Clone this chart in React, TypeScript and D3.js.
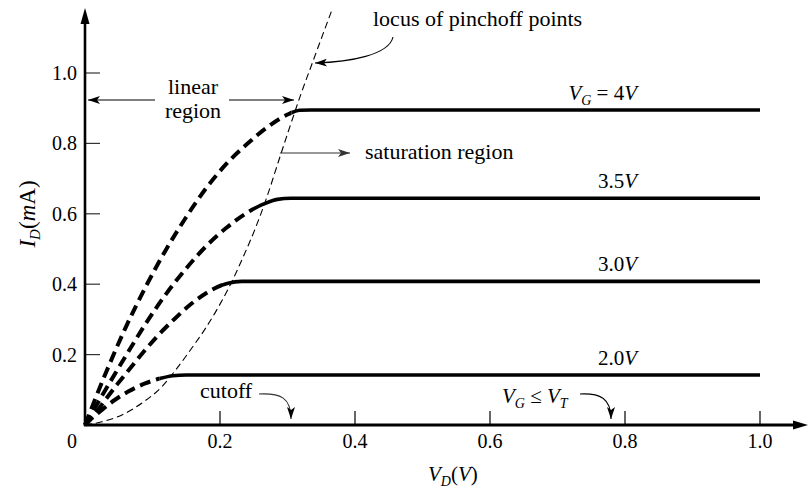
import React from "react";
import * as d3 from "d3";

// ---------- data ----------
const xTickValues = [0.2, 0.4, 0.6, 0.8, 1.0];
const yTickValues = [0.2, 0.4, 0.6, 0.8, 1.0];

// I_D (mA) vs V_D (V) for each gate voltage
const curveVG40: [number, number][] = [
  [0, 0], [0.03, 0.144], [0.06, 0.276], [0.09, 0.393], [0.12, 0.498],
  [0.15, 0.591], [0.18, 0.674], [0.21, 0.743], [0.24, 0.798], [0.27, 0.846],
  [0.3, 0.882], [0.318, 0.894], [0.335, 0.895], [1.0, 0.895],
];
const curveVG35: [number, number][] = [
  [0, 0], [0.03, 0.099], [0.06, 0.195], [0.09, 0.288], [0.12, 0.372],
  [0.15, 0.445], [0.18, 0.509], [0.21, 0.561], [0.24, 0.603], [0.265, 0.628],
  [0.285, 0.641], [0.305, 0.644], [1.0, 0.644],
];
const curveVG30: [number, number][] = [
  [0, 0], [0.015, 0.033], [0.03, 0.071], [0.047, 0.114], [0.067, 0.161],
  [0.086, 0.206], [0.109, 0.256], [0.133, 0.302], [0.158, 0.345], [0.188, 0.384],
  [0.212, 0.403], [0.232, 0.408], [1.0, 0.408],
];
const curveVG20: [number, number][] = [
  [0, 0], [0.01, 0.019], [0.025, 0.043], [0.044, 0.071], [0.064, 0.095],
  [0.089, 0.118], [0.111, 0.132], [0.13, 0.14], [0.15, 0.142], [1.0, 0.142],
];
const pinchVD = [0.306, 0.249, 0.203, 0.11]; // where each curve turns solid
const seriesLabels = ["4V", "3.5V", "3.0V", "2.0V"];

// locus of pinch-off points
const locusPoints: [number, number][] = [
  [0, 0], [0.025, 0.009], [0.054, 0.028], [0.084, 0.062], [0.114, 0.109],
  [0.135, 0.158], [0.158, 0.218], [0.178, 0.273], [0.197, 0.333], [0.217, 0.405],
  [0.234, 0.476], [0.252, 0.557], [0.269, 0.645], [0.286, 0.745], [0.301, 0.833],
  [0.319, 0.935], [0.338, 1.035], [0.366, 1.18],
];

// ---------- layout ----------
const W = 809;
const H = 489;
const FONT = "'Liberation Serif', 'Times New Roman', serif";
const ANN = 22;

const x = d3.scaleLinear().domain([0, 1]).range([85, 760]);
const y = d3.scaleLinear().domain([0, 1]).range([425, 73]);

const line = d3
  .line<[number, number]>()
  .x((d) => x(d[0]))
  .y((d) => y(d[1]))
  .curve(d3.curveMonotoneX);

const curves = [curveVG40, curveVG35, curveVG30, curveVG20];

function SeriesLabel({ label, level }: { label: string; level: number }) {
  const ty = y(level) - 10;
  const num = label.replace("V", "");
  if (label === "4V") {
    return (
      <text x={637} y={ty} textAnchor="end" fontSize={21} fontFamily={FONT}>
        <tspan fontStyle="italic">V</tspan>
        <tspan fontStyle="italic" fontSize={14} dy={5}>G</tspan>
        <tspan dy={-5}>{" = " + num}</tspan>
        <tspan fontStyle="italic">V</tspan>
      </text>
    );
  }
  return (
    <text x={637} y={ty} textAnchor="end" fontSize={21} fontFamily={FONT}>
      <tspan>{num}</tspan>
      <tspan fontStyle="italic">V</tspan>
    </text>
  );
}

export default function App() {
  return (
    <svg
      width={W}
      height={H}
      viewBox={`0 0 ${W} ${H}`}
      style={{ position: "absolute", left: 0, top: 0, display: "block", background: "#fff" }}
    >
      <defs>
        <marker id="ah" viewBox="0 0 12 8" refX={12} refY={4} markerWidth={12} markerHeight={8}
          markerUnits="userSpaceOnUse" orient="auto">
          <path d="M0,0 L12,4 L0,8 L3,4 z" fill="#000" />
        </marker>
        <marker id="ahg" viewBox="0 0 12 8" refX={12} refY={4} markerWidth={12} markerHeight={8}
          markerUnits="userSpaceOnUse" orient="auto">
          <path d="M0,0 L12,4 L0,8 L3,4 z" fill="#333" />
        </marker>
        {pinchVD.map((p, i) => (
          <React.Fragment key={i}>
            <clipPath id={`dash${i}`}>
              <rect x={0} y={0} width={x(p)} height={H} />
            </clipPath>
            <clipPath id={`solid${i}`}>
              <rect x={x(p)} y={0} width={W - x(p)} height={H} />
            </clipPath>
          </React.Fragment>
        ))}
      </defs>

      {/* locus of pinch-off points */}
      <path d={line(locusPoints) || ""} fill="none" stroke="#000" strokeWidth={1.1}
        strokeDasharray="7,4" />

      {/* characteristic curves */}
      {curves.map((c, i) => (
        <g key={i}>
          <path d={line(c) || ""} fill="none" stroke="#000" strokeWidth={4}
            strokeDasharray="11,6" clipPath={`url(#dash${i})`} />
          <path d={line(c) || ""} fill="none" stroke="#000" strokeWidth={3.6}
            clipPath={`url(#solid${i})`} />
          <SeriesLabel label={seriesLabels[i]} level={c[c.length - 1][1]} />
        </g>
      ))}

      {/* y ticks */}
      {yTickValues.map((v) => (
        <g key={"y" + v}>
          <line x1={x(0)} x2={x(0) + 15} y1={y(v)} y2={y(v)} stroke="#333" strokeWidth={1.2} />
          <text x={77} y={y(v) + 7} textAnchor="end" fontSize={20} fontFamily={FONT}>
            {d3.format(".1f")(v)}
          </text>
        </g>
      ))}
      {/* x ticks */}
      {xTickValues.map((v) => (
        <g key={"x" + v}>
          <line x1={x(v)} x2={x(v)} y1={y(0)} y2={y(0) - 14} stroke="#000" strokeWidth={1.2} />
          <text x={x(v)} y={448} textAnchor="middle" fontSize={20} fontFamily={FONT}>
            {d3.format(".1f")(v)}
          </text>
        </g>
      ))}
      <text x={72} y={448} textAnchor="middle" fontSize={20} fontFamily={FONT}>0</text>

      {/* axes */}
      <line x1={x(0)} x2={x(0)} y1={y(0) + 1} y2={20} stroke="#000" strokeWidth={2.6} />
      <path d={`M${x(0)},8 L${x(0) + 4.5},24 L${x(0) - 4.5},24 z`} fill="#000" />
      <line x1={x(0) - 1} x2={796} y1={y(0)} y2={y(0)} stroke="#000" strokeWidth={3} />
      <path d={`M808,${y(0)} L793,${y(0) - 4.5} L793,${y(0) + 4.5} z`} fill="#000" />

      {/* axis titles */}
      <text transform="translate(35,214) rotate(-90)" textAnchor="middle" fontSize={23}
        fontFamily={FONT}>
        <tspan fontStyle="italic">I</tspan>
        <tspan fontStyle="italic" fontSize={15} dy={5}>D</tspan>
        <tspan dy={-5}>(</tspan>
        <tspan fontStyle="italic">m</tspan>
        <tspan>A)</tspan>
      </text>
      <text x={428} y={481} fontSize={21} fontFamily={FONT}>
        <tspan fontStyle="italic">V</tspan>
        <tspan fontStyle="italic" fontSize={14} dy={5}>D</tspan>
        <tspan dy={-5}>(</tspan>
        <tspan fontStyle="italic">V</tspan>
        <tspan>)</tspan>
      </text>

      {/* linear region annotation */}
      <text x={193} y={94} textAnchor="middle" fontSize={ANN} fontFamily={FONT}>linear</text>
      <text x={193} y={118} textAnchor="middle" fontSize={ANN} fontFamily={FONT}>region</text>
      <line x1={155} x2={88} y1={100} y2={100} stroke="#000" strokeWidth={1.1} markerEnd="url(#ah)" />
      <line x1={229} x2={294} y1={100} y2={100} stroke="#000" strokeWidth={1.1} markerEnd="url(#ah)" />

      {/* saturation region annotation */}
      <line x1={280} x2={350} y1={153} y2={153} stroke="#333" strokeWidth={1.1} markerEnd="url(#ahg)" />
      <text x={365} y={159} fontSize={ANN} fontFamily={FONT}>saturation region</text>

      {/* locus annotation */}
      <text x={373} y={26} fontSize={ANN} fontFamily={FONT}>locus of pinchoff points</text>
      <path d="M393,37 C389,55 350,62 315,63" fill="none" stroke="#000" strokeWidth={1.1}
        markerEnd="url(#ah)" />

      {/* cutoff annotation */}
      <text x={200} y={398} fontSize={ANN} fontFamily={FONT}>cutoff</text>
      <path d="M259,394 C280,393 291,397 291,419" fill="none" stroke="#333" strokeWidth={1.1}
        markerEnd="url(#ah)" />

      {/* V_G <= V_T annotation */}
      <text x={502} y={403} fontSize={21} fontFamily={FONT}>
        <tspan fontStyle="italic">V</tspan>
        <tspan fontStyle="italic" fontSize={14} dy={5}>G</tspan>
        <tspan dy={-5}>{" \u2264 "}</tspan>
        <tspan fontStyle="italic">V</tspan>
        <tspan fontStyle="italic" fontSize={14} dy={5}>T</tspan>
      </text>
      <path d="M580,394 C600,393 611,398 611,419" fill="none" stroke="#000" strokeWidth={1.1}
        markerEnd="url(#ah)" />
    </svg>
  );
}
